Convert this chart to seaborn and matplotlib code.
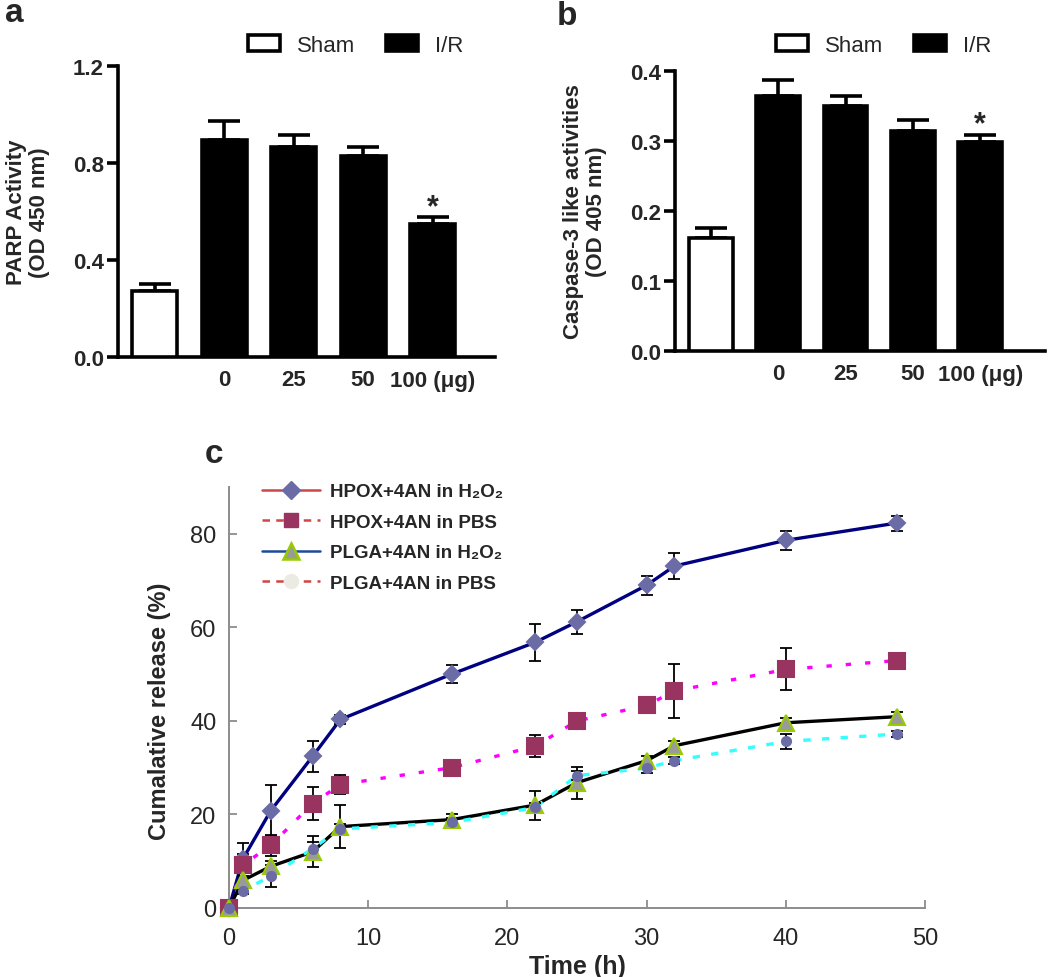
import numpy as np
import pandas as pd
import matplotlib
matplotlib.use("Agg")
import matplotlib.pyplot as plt
import seaborn as sns
from matplotlib.patches import Patch
from matplotlib.lines import Line2D
from matplotlib.transforms import ScaledTranslation
from matplotlib import font_manager

sns.set_theme(style="white")
plt.rcParams['font.family'] = ['Liberation Sans', 'DejaVu Sans']
_names = {f.name for f in font_manager.fontManager.ttflist}
NARROW = [n for n in ['Liberation Sans Narrow', 'Liberation Sans', 'DejaVu Sans'] if n in _names]

# ---------------- data ----------------
groups = ["Sham", "0", "25", "50", "100"]
group_type = ["Sham", "I/R", "I/R", "I/R", "I/R"]
dose_labels = ["0", "25", "50", "100 (μg)"]

parp = [0.272, 0.895, 0.866, 0.829, 0.548]
parp_err = [0.029, 0.078, 0.049, 0.037, 0.029]
casp = [0.162, 0.364, 0.350, 0.315, 0.298]
casp_err = [0.014, 0.023, 0.014, 0.015, 0.011]

time_h = [0, 1, 3, 6, 8, 16, 22, 25, 30, 32, 40, 48]
hpox_h2o2 = [0, 10.5, 20.8, 32.4, 40.3, 50.0, 56.8, 61.2, 69.0, 73.1, 78.6, 82.3]
hpox_h2o2_err = [0, 1.0, 5.4, 3.3, 1.0, 2.0, 4.0, 2.6, 2.0, 2.7, 2.0, 1.6]
hpox_pbs = [0, 9.2, 13.4, 22.3, 26.4, 30.0, 34.6, 40.0, 43.3, 46.4, 51.0, 52.9]
hpox_pbs_err = [0, 4.6, 2.2, 3.5, 2.0, 1.0, 2.4, 1.0, 1.0, 5.8, 4.5, 1.0]
plga_h2o2 = [0, 5.9, 8.9, 12.0, 17.4, 18.9, 22.0, 26.8, 31.5, 34.7, 39.6, 40.9]
plga_h2o2_err = [0, 1.0, 1.2, 3.3, 4.6, 1.2, 3.1, 3.4, 1.0, 1.0, 1.0, 1.0]
plga_pbs = [0, 3.7, 6.8, 12.7, 16.9, 18.3, 21.5, 28.3, 29.9, 31.5, 35.6, 37.2]
plga_pbs_err = [0, 0.8, 2.3, 1.5, 1.0, 1.0, 1.0, 1.0, 1.0, 0.8, 1.7, 0.6]

legend_labels = ["HPOX+4AN in H₂O₂", "HPOX+4AN in PBS", "PLGA+4AN in H₂O₂", "PLGA+4AN in PBS"]

# ---------------- figure ----------------
W, H = 1050, 978
fig = plt.figure(figsize=(W / 100, H / 100), dpi=100)


def px_axes(l, t, r, b):
    return fig.add_axes([l / W, 1 - b / H, (r - l) / W, (b - t) / H])


ax_a = px_axes(118, 67, 495, 358)
ax_b = px_axes(675, 72, 1045, 352)
ax_c = px_axes(229, 488, 925, 909)


def bar_panel(ax, vals, errs, ymax, yticks, ytl, ylabel, xlim, star_y, label_x):
    df = pd.DataFrame({"group": groups, "value": vals, "type": group_type})
    sns.barplot(data=df, x="group", y="value", hue="type",
                palette={"Sham": "white", "I/R": "black"}, dodge=False,
                width=0.65, edgecolor="black", linewidth=2.6, errorbar=None,
                legend=False, ax=ax, zorder=3)
    ax.errorbar(range(len(vals)), vals, yerr=[np.zeros(len(vals)), errs],
                fmt="none", ecolor="black", elinewidth=2.6, capsize=11.5,
                capthick=2.6, zorder=2)
    ax.set_ylim(0, ymax)
    ax.set_xlim(*xlim)
    ax.set_yticks(yticks)
    ax.set_yticklabels(ytl, fontsize=16, fontweight="bold")
    ax.set_xticks([1, 2, 3, 4])
    ax.set_xticklabels(dose_labels, fontsize=16, fontweight="bold")
    lab = ax.get_xticklabels()[-1]
    lab.set_transform(lab.get_transform() + ScaledTranslation(0.27, 0, fig.dpi_scale_trans))
    ax.tick_params(axis="x", length=0, pad=9)
    ax.tick_params(axis="y", direction="out", length=8, width=2.6, color="black", pad=2, left=True)
    for s in ["top", "right"]:
        ax.spines[s].set_visible(False)
    for s in ["left", "bottom"]:
        ax.spines[s].set_linewidth(2.6)
        ax.spines[s].set_color("black")
    ax.set_xlabel("")
    ax.set_ylabel(ylabel, fontsize=16, fontweight="bold", multialignment="center",
                  linespacing=1.15)
    ax.yaxis.set_label_coords(label_x, 0.5)
    ax.yaxis.label.set_va("center")
    ax.text(4, star_y, "*", ha="center", va="baseline", fontsize=22, fontweight="bold")


bar_panel(ax_a, parp, parp_err, 1.2, [0, 0.4, 0.8, 1.2], ["0.0", "0.4", "0.8", "1.2"],
          "PARP Activity\n(OD 450 nm)", (-0.53, 4.9), 0.585, -0.239)
bar_panel(ax_b, casp, casp_err, 0.4, [0, 0.1, 0.2, 0.3, 0.4],
          ["0.0", "0.1", "0.2", "0.3", "0.4"],
          "Caspase-3 like activities\n(OD 405 nm)", (-0.53, 4.96), 0.313, -0.243)

for ax, x0 in [(ax_a, 248), (ax_b, 776)]:
    handles = [Patch(facecolor="white", edgecolor="black", linewidth=2.6),
               Patch(facecolor="black", edgecolor="black", linewidth=2.6)]
    fig.legend(handles, ["Sham", "I/R"], ncol=2, frameon=False, fontsize=16,
               loc="center left", bbox_to_anchor=(x0 / W, 1 - 46 / H),
               bbox_transform=fig.transFigure, borderpad=0, borderaxespad=0,
               handlelength=1.45, handleheight=0.75, handletextpad=0.75,
               columnspacing=1.4)

# ---------------- panel c ----------------
series = [
    (hpox_h2o2, hpox_h2o2_err, "#000080", "-", "D", 8.6, "#6b6ba6", "#6b6ba6", 2.4),
    (hpox_pbs, hpox_pbs_err, "#ff00ff", (0, (1.6, 4.2)), "s", 11.0, "#99335f", "#99335f", 2.4),
    (plga_h2o2, plga_h2o2_err, "black", "-", "^", 11.0, "#9a9a9a", "#99cc00", 2.4),
    (plga_pbs, plga_pbs_err, "#33ffff", (0, (2.2, 3.4)), "o", 6.5, "#6b6ba6", "#6b6ba6", 2.4),
]

for vals, errs, lc, ls, mk, ms, mfc, mec, lw in series:
    sns.lineplot(x=time_h, y=vals, color=lc, linewidth=lw, linestyle=ls, ax=ax_c,
                 zorder=2, errorbar=None)
for vals, errs, lc, ls, mk, ms, mfc, mec, lw in series:
    ax_c.errorbar(time_h, vals, yerr=errs, fmt="none", ecolor="black",
                  elinewidth=1.3, capsize=4, capthick=1.3, zorder=3)
for vals, errs, lc, ls, mk, ms, mfc, mec, lw in series:
    ax_c.plot(time_h, vals, ls="none", marker=mk, ms=ms, mfc=mfc, mec=mec,
              mew=1.5, zorder=4, clip_on=False)

ax_c.set_xlim(0, 50)
ax_c.set_ylim(0, 90)
ax_c.set_xticks([0, 10, 20, 30, 40, 50])
ax_c.set_yticks([0, 20, 40, 60, 80])
ax_c.set_xticklabels(["0", "10", "20", "30", "40", "50"], fontsize=17, family=NARROW)
ax_c.set_yticklabels(["0", "20", "40", "60", "80"], fontsize=17, family=NARROW)
ax_c.tick_params(axis="both", direction="in", length=6, width=1.3, color="#8c8c8c")
ax_c.tick_params(axis="x", pad=14, bottom=True)
ax_c.tick_params(axis="y", pad=9, left=True)
for s in ["top", "right"]:
    ax_c.spines[s].set_visible(False)
for s in ["left", "bottom"]:
    ax_c.spines[s].set_linewidth(1.4)
    ax_c.spines[s].set_color("#8c8c8c")

ax_c.set_xlabel("Time (h)", fontsize=18, fontweight="bold", family=NARROW)
ax_c.xaxis.set_label_coords(0.5, -0.138)
ax_c.xaxis.label.set_va("center")
ax_c.set_ylabel("Cumalative release (%)", fontsize=17, fontweight="bold")
ax_c.yaxis.set_label_coords(-0.1, 0.47)
ax_c.yaxis.label.set_va("center")

leg_handles = [
    Line2D([], [], color="#d04545", lw=1.8, ls="-", marker="D", ms=9, mfc="#6b6ba6", mec="#6b6ba6"),
    Line2D([], [], color="#d04545", lw=1.8, ls=(0, (3, 2.5)), marker="s", ms=10, mfc="#99335f", mec="#99335f"),
    Line2D([], [], color="#1f4a9a", lw=1.8, ls="-", marker="^", ms=11, mfc="#9a9a9a", mec="#99cc00", mew=1.8),
    Line2D([], [], color="#d04545", lw=1.8, ls=(0, (3, 2.5)), marker="o", ms=10, mfc="#ecebe3", mec="#ecebe3"),
]
ax_c.legend(leg_handles, legend_labels, loc="upper left", frameon=False,
            bbox_to_anchor=((262 - 229) / 696, (909 - 484) / 421),
            prop={"size": 13.5, "weight": "bold", "family": ['Liberation Sans', 'DejaVu Sans']},
            borderpad=0, borderaxespad=0, handlelength=3.1, handletextpad=0.55,
            labelspacing=0.72)

# panel letters
fig.text(5 / W, 1 - 22 / H, "a", fontsize=24, fontweight="bold", va="baseline")
fig.text(557 / W, 1 - 25 / H, "b", fontsize=24, fontweight="bold", va="baseline")
fig.text(205 / W, 1 - 463 / H, "c", fontsize=24, fontweight="bold", va="baseline")

fig.savefig("out.png", dpi=100)
